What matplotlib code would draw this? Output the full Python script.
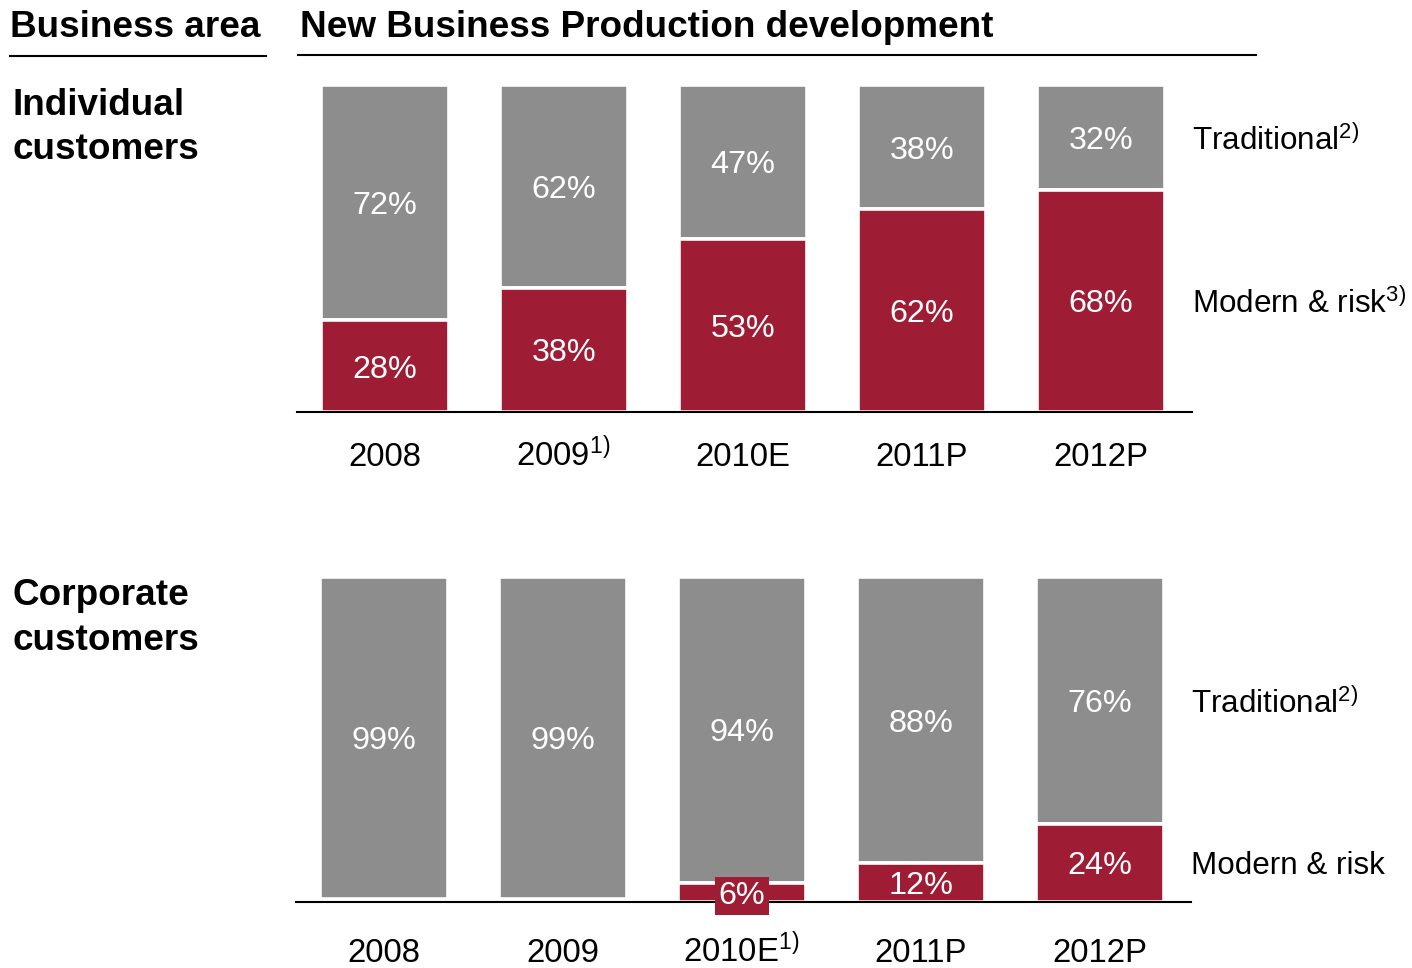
import matplotlib
matplotlib.use("Agg")
import matplotlib.pyplot as plt
import numpy as np

plt.rcParams["font.family"] = ["Liberation Sans", "DejaVu Sans"]
plt.rcParams["mathtext.fontset"] = "custom"
plt.rcParams["mathtext.rm"] = "Liberation Sans"
plt.rcParams["mathtext.default"] = "regular"

# share of new business production, in %
ind_years = ["2008", "2009$^{1)}$", "2010E", "2011P", "2012P"]
ind_modern = [28, 38, 53, 62, 68]
ind_traditional = [72, 62, 47, 38, 32]

corp_years = ["2008", "2009", "2010E$^{1)}$", "2011P", "2012P"]
corp_modern = [1, 1, 6, 12, 24]
corp_traditional = [99, 99, 94, 88, 76]

GRAY = "#8d8d8d"
RED = "#9f1c35"
W, H = 1412, 968
FS = 23.3      # labels inside and under the bars
FS_SIDE = 22.6 # series names on the right
FS_HEAD = 26.6 # bold headers

fig = plt.figure(figsize=(W / 100, H / 100), dpi=100)


def px(x, y):
    return x / W, 1 - y / H


def panel(left, right, top, bottom):
    ax = fig.add_axes([left / W, 1 - bottom / H, (right - left) / W, (bottom - top) / H])
    ax.set_xlim(-0.49, 4.51)
    ax.set_ylim(0, 100)
    for s in ["top", "right", "left"]:
        ax.spines[s].set_visible(False)
    ax.spines["bottom"].set_linewidth(1.5)
    ax.spines["bottom"].set_zorder(5)
    ax.set_xticks([])
    ax.set_yticks([])
    ax.patch.set_visible(False)
    return ax


def draw(ax, years, modern, traditional, year_off, labels_right, boxed_small=False):
    x = np.arange(len(years))
    modern = np.array(modern)
    traditional = np.array(traditional)
    bottoms = 100 - traditional
    ax.bar(x, traditional, bottom=bottoms, width=0.715, color=GRAY,
           edgecolor="white", linewidth=2.6, clip_on=False)
    show = modern >= 5
    ax.bar(x[show], modern[show], width=0.715, color=RED,
           edgecolor="white", linewidth=2.6, clip_on=False)
    for i in x:
        ax.text(i, bottoms[i] + traditional[i] / 2, f"{traditional[i]}%",
                ha="center", va="center_baseline", color="white", fontsize=FS)
        if show[i]:
            kw = {}
            if boxed_small and modern[i] < 10:
                kw["bbox"] = dict(boxstyle="square,pad=0.12", fc=RED, ec="none")
            ax.text(i, modern[i] / 2, f"{modern[i]}%", ha="center",
                    va="center_baseline", color="white", fontsize=FS,
                    zorder=6, **kw)
        ax.text(i, year_off, years[i], ha="center", va="baseline",
                fontsize=FS + 0.4, transform=ax.get_xaxis_transform())
    trad_lbl, mod_lbl = labels_right
    last = len(years) - 1
    ax.text(1.0, bottoms[last] + traditional[last] / 2, trad_lbl, ha="left",
            va="center_baseline", fontsize=FS_SIDE,
            transform=ax.get_yaxis_transform())
    ax.text(1.0, modern[last] / 2, mod_lbl, ha="left", va="center_baseline",
            fontsize=FS_SIDE, transform=ax.get_yaxis_transform())


ax1 = panel(297, 1192, 85, 412)
draw(ax1, ind_years, ind_modern, ind_traditional, -54 / 327,
     ("Traditional$^{2)}$", "Modern & risk$^{3)}$"))

ax2 = panel(296, 1191, 577, 902)
draw(ax2, corp_years, corp_modern, corp_traditional, -60 / 325,
     ("Traditional$^{2)}$", "Modern & risk"), boxed_small=True)

# headers and row titles
fig.text(*px(10, 37), "Business area", fontsize=FS_HEAD, fontweight="bold",
         ha="left", va="baseline")
fig.text(*px(300, 37), "New Business Production development", fontsize=FS_HEAD,
         fontweight="bold", ha="left", va="baseline")
fig.add_artist(plt.Line2D([10 / W, 266 / W], [1 - 56 / H] * 2, color="black", lw=1.5))
fig.add_artist(plt.Line2D([298 / W, 1256 / W], [1 - 55 / H] * 2, color="black", lw=1.5))

for text, base in [("Individual", 115), ("customers", 159),
                   ("Corporate", 605), ("customers", 650)]:
    fig.text(*px(12, base), text, fontsize=FS_HEAD, fontweight="bold",
             ha="left", va="baseline")

fig.savefig("out.png", dpi=100)
